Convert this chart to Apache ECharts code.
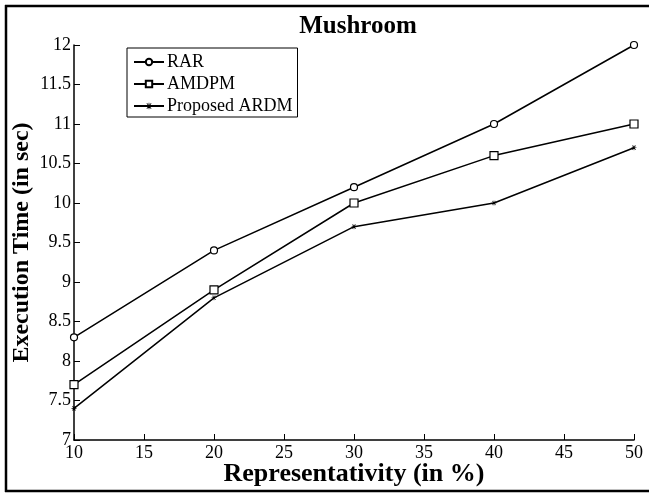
<!DOCTYPE html>
<html>
<head>
<meta charset="utf-8">
<script src="https://cdn.jsdelivr.net/npm/echarts@6/dist/echarts.min.js"></script>
<style>
  html, body { margin: 0; padding: 0; background: #fff; }
  #chart { width: 649px; height: 495px; }
</style>
</head>
<body>
<div id="chart"></div>
<script>
// Execution time of the three methods on the Mushroom dataset
const representativity = [10, 20, 30, 40, 50];
const rarTimes = [8.3, 9.4, 10.2, 11.0, 12.0];
const amdpmTimes = [7.7, 8.9, 10.0, 10.6, 11.0];
const ardmTimes = [7.4, 8.8, 9.7, 10.0, 10.7];

const seriesNames = ['RAR', 'AMDPM', 'Proposed ARDM'];

const serif = '"Liberation Serif", "Times New Roman", serif';
const starPath = 'path://M4.5,0 L5.5,0 L5.5,4 L9.5,4 L9.5,5 L5.5,5 L5.5,9 L4.5,9 L4.5,5 L0.5,5 L0.5,4 L4.5,4 Z M1.5,1 L2.3,0.3 L8.5,7.9 L7.7,8.6 Z M7.7,0.3 L8.5,1 L2.3,8.6 L1.5,7.9 Z';

function pairs(values) {
  return representativity.map((x, i) => [x, values[i]]);
}

const chart = echarts.init(document.getElementById('chart'), null, { renderer: 'canvas' });

chart.setOption({
  animation: false,
  backgroundColor: '#fff',
  title: {
    text: 'Mushroom',
    left: 353,
    textAlign: 'center',
    top: 9,
    textStyle: { fontFamily: serif, fontSize: 25, fontWeight: 'bold', color: '#000' }
  },
  legend: {
    data: seriesNames,
    orient: 'vertical',
    left: 127,
    top: 48,
    itemWidth: 30,
    itemHeight: 8,
    itemGap: 4,
    padding: [5, 5, 2, 6],
    borderColor: '#000',
    borderWidth: 1,
    textStyle: { fontFamily: serif, fontSize: 18, color: '#000', padding: [0, 0, 0, -2] }
  },
  grid: { left: 74, right: 15, top: 45, bottom: 55, outerBoundsMode: 'none' },
  xAxis: {
    type: 'value',
    min: 10,
    max: 50,
    interval: 5,
    name: 'Representativity (in %)',
    nameLocation: 'middle',
    nameGap: 21,
    nameMoveOverlap: false,
    nameTextStyle: { fontFamily: serif, fontSize: 26, fontWeight: 'bold', color: '#000' },
    axisLine: { lineStyle: { color: '#000', width: 1.5 } },
    axisTick: { inside: true, length: 6, lineStyle: { color: '#000' } },
    axisLabel: { fontFamily: serif, fontSize: 18, color: '#000', margin: 4 },
    splitLine: { show: false }
  },
  yAxis: {
    type: 'value',
    min: 7,
    max: 12,
    interval: 0.5,
    name: 'Execution Time (in sec)',
    nameLocation: 'middle',
    nameGap: 40,
    nameMoveOverlap: false,
    nameTextStyle: { fontFamily: serif, fontSize: 24, fontWeight: 'bold', color: '#000' },
    axisLine: { show: true, lineStyle: { color: '#000', width: 1.5 } },
    axisTick: { show: true, inside: true, length: 6, lineStyle: { color: '#000' } },
    axisLabel: { fontFamily: serif, fontSize: 18, color: '#000', margin: 3 },
    splitLine: { show: false }
  },
  series: [
    {
      name: seriesNames[0],
      type: 'line',
      data: pairs(rarTimes),
      symbol: 'circle',
      symbolSize: 7,
      itemStyle: { color: '#fff', borderColor: '#000', borderWidth: 1.2 },
      lineStyle: { color: '#000', width: 1.5 }
    },
    {
      name: seriesNames[1],
      type: 'line',
      data: pairs(amdpmTimes),
      symbol: 'rect',
      symbolSize: 8,
      itemStyle: { color: '#fff', borderColor: '#000', borderWidth: 1.2 },
      lineStyle: { color: '#000', width: 1.5 }
    },
    {
      name: seriesNames[2],
      type: 'line',
      data: pairs(ardmTimes),
      symbol: starPath,
      symbolSize: 5,
      itemStyle: { color: '#000', borderWidth: 0 },
      lineStyle: { color: '#000', width: 1.5 }
    }
  ],
  graphic: [
    { type: 'line', shape: { x1: 5, y1: 6, x2: 649, y2: 6 }, style: { stroke: '#000', lineWidth: 2.5 } },
    { type: 'line', shape: { x1: 6, y1: 5, x2: 6, y2: 492 }, style: { stroke: '#000', lineWidth: 2.5 } },
    { type: 'line', shape: { x1: 5, y1: 491, x2: 649, y2: 491 }, style: { stroke: '#000', lineWidth: 2.5 } }
  ]
});
</script>
</body>
</html>
